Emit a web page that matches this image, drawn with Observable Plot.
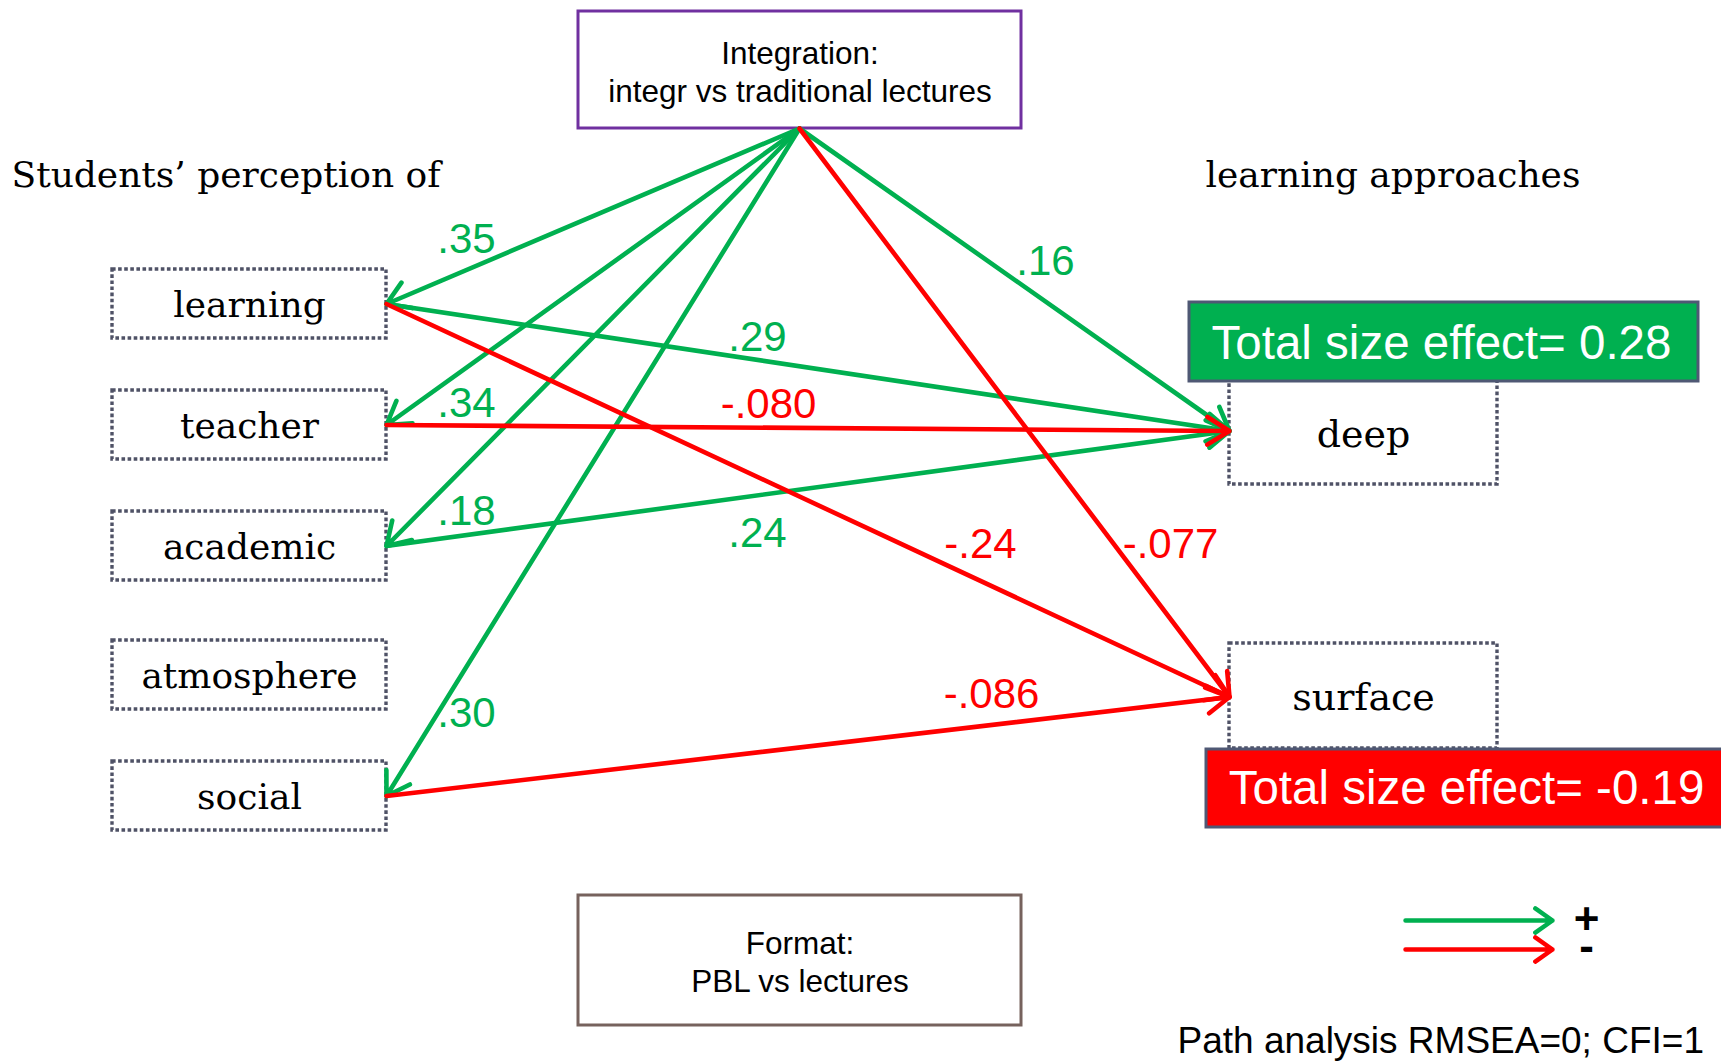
<!DOCTYPE html>
<html><head><meta charset="utf-8">
<script src="https://cdn.jsdelivr.net/npm/d3@7"></script>
<script src="https://cdn.jsdelivr.net/npm/@observablehq/plot@0.6"></script>
<style>html,body{margin:0;padding:0;background:#fff;overflow:hidden}</style>
</head><body><div id="chart"></div>
<script>
// ---------- DATA ----------
const perceptionVars = ["learning", "teacher", "academic", "atmosphere", "social"];
const approachVars = ["deep", "surface"];
const predictorIds = ["integration", "format"];
const predictorLabels = ["Integration:\nintegr vs traditional lectures", "Format:\nPBL vs lectures"];
const pathFrom = ["integration", "integration", "integration", "integration", "integration", "integration", "learning", "teacher", "academic", "learning", "social"];
const pathTo   = ["learning", "teacher", "academic", "social", "deep", "surface", "deep", "deep", "deep", "surface", "surface"];
const pathCoef = [0.35, 0.34, 0.18, 0.30, 0.16, -0.077, 0.29, -0.080, 0.24, -0.24, -0.086];
const pathCoefLabels = [".35", ".34", ".18", ".30", ".16", "-.077", ".29", "-.080", ".24", "-.24", "-.086"];
const totalEffectVars = ["deep", "surface"];
const totalEffects = [0.28, -0.19];
const headers = ["Students\u2019 perception of", "learning approaches"];
const legendSigns = ["+", "-"];
const caption = "Path analysis RMSEA=0; CFI=1";

// ---------- LAYOUT (diagram geometry) ----------
const W = 1721, H = 1062;
const perceptionBox = {x1: 112, x2: 386, h: 69, cy: [303.5, 424.5, 545.5, 674.5, 795.5]};
const approachBox = {x1: 1229, x2: 1497, h: 105, cy: [431.5, 695.5], ty: [434, 697]};
const predictorBox = {x1: 578, x2: 1021, y1: [11, 895], y2: [128, 1025], stroke: ["#7030a0", "#76625d"], cy: [70, 960]};
const effectBox = {x1: [1189, 1206], x2: [1698, 1740], y1: [302, 749], y2: [381, 827], tx: [1441, 1466], ty: [343, 788]};
const coefLabelPos = [[466, 239], [466, 403], [466, 511], [466, 713], [1045, 261], [1170, 544], [757, 337], [768, 404], [757, 533], [980, 544], [991, 694]];
const GREEN = "#00b050", RED = "#ff0000";

// ports
const port = {};
port.integration = [799, 128];
perceptionVars.forEach((v, i) => port[v] = [perceptionBox.x2, perceptionBox.cy[i]]);
approachVars.forEach((v, i) => port[v] = [approachBox.x1, approachBox.cy[i] + (i === 0 ? -1 : 1)]);

const perceptionRows = perceptionVars.map((v, i) => ({name: v, x1: perceptionBox.x1, x2: perceptionBox.x2, y1: perceptionBox.cy[i] - perceptionBox.h / 2, y2: perceptionBox.cy[i] + perceptionBox.h / 2, cx: (perceptionBox.x1 + perceptionBox.x2) / 2, cy: perceptionBox.cy[i] + 1}));
const approachRows = approachVars.map((v, i) => ({name: v, x1: approachBox.x1, x2: approachBox.x2, y1: approachBox.cy[i] - approachBox.h / 2, y2: approachBox.cy[i] + approachBox.h / 2, cx: (approachBox.x1 + approachBox.x2) / 2, cy: approachBox.ty[i]}));
const predictorRows = predictorIds.map((id, i) => ({id, label: predictorLabels[i], x1: predictorBox.x1, x2: predictorBox.x2, y1: predictorBox.y1[i], y2: predictorBox.y2[i], stroke: predictorBox.stroke[i], cx: (predictorBox.x1 + predictorBox.x2) / 2, cy: predictorBox.cy[i]}));
const paths = pathFrom.map((f, i) => ({from: f, to: pathTo[i], coef: pathCoef[i], label: pathCoefLabels[i], x1: port[f][0], y1: port[f][1], x2: port[pathTo[i]][0], y2: port[pathTo[i]][1], lx: coefLabelPos[i][0], ly: coefLabelPos[i][1], color: pathCoef[i] >= 0 ? GREEN : RED}));
const pathsOrdered = [...paths.filter(d => d.coef >= 0), ...paths.filter(d => d.coef < 0)];
const effectRows = totalEffectVars.map((v, i) => ({v, value: totalEffects[i], label: "Total size effect= " + (totalEffects[i] < 0 ? "-" : "") + Math.abs(totalEffects[i]).toFixed(2), x1: effectBox.x1[i], x2: effectBox.x2[i], y1: effectBox.y1[i], y2: effectBox.y2[i], tx: effectBox.tx[i], ty: effectBox.ty[i], fill: totalEffects[i] >= 0 ? GREEN : RED}));
const headerRows = headers.map((t, i) => ({t, x: [11, 1205][i], y: 175}));
const legendRows = legendSigns.map((s, i) => ({s, x1: 1405, x2: 1552, y: [920, 949][i], color: [GREEN, RED][i]}));
const legendSignText = [{t: legendSigns.join("\n"), x: 1586, y: 938}];

const SERIF = "'DejaVu Serif', serif";
const SANS = "'Liberation Sans', Arial, sans-serif";
const DOT = "#4f5266";

const chart = Plot.plot({
  width: W, height: H, margin: 0,
  x: {domain: [0, W], range: [0, W], axis: null},
  y: {domain: [0, H], range: [0, H], axis: null},
  marks: [
    Plot.rect(perceptionRows, {x1: "x1", x2: "x2", y1: "y1", y2: "y2", fill: "none", stroke: DOT, strokeWidth: 3.4, strokeDasharray: "3.6,2.5"}),
    Plot.rect(approachRows, {x1: "x1", x2: "x2", y1: "y1", y2: "y2", fill: "none", stroke: DOT, strokeWidth: 3.4, strokeDasharray: "3.6,2.5"}),
    Plot.rect(predictorRows, {x1: "x1", x2: "x2", y1: "y1", y2: "y2", fill: "none", stroke: "stroke", strokeWidth: 3}),
    Plot.text(perceptionRows, {x: "cx", y: "cy", text: "name", fontFamily: SERIF, fontSize: 36, fill: "#000", lineAnchor: "middle"}),
    Plot.text(approachRows, {x: "cx", y: "cy", text: "name", fontFamily: SERIF, fontSize: 38, fill: "#000", lineAnchor: "middle"}),
    Plot.text(predictorRows, {x: "cx", y: "cy", text: "label", fontFamily: SANS, fontSize: 31.5, fill: "#000", lineAnchor: "middle", lineHeight: 1.22}),
    Plot.arrow(pathsOrdered, {x1: "x1", y1: "y1", x2: "x2", y2: "y2", stroke: "color", strokeWidth: 4.6, headLength: 8.5, headAngle: 64}),
    Plot.rect(effectRows, {x1: "x1", x2: "x2", y1: "y1", y2: "y2", fill: "fill", stroke: "#4f5874", strokeWidth: 3}),
    Plot.text(effectRows, {x: "tx", y: "ty", text: "label", fontFamily: SANS, fontSize: 47.5, fill: "#fff", lineAnchor: "middle"}),
    Plot.text(paths, {x: "lx", y: "ly", text: "label", fill: "color", fontFamily: SANS, fontSize: 42, lineAnchor: "middle"}),
    Plot.text(headerRows, {x: "x", y: "y", text: "t", fontFamily: SERIF, fontSize: 36, fill: "#000", textAnchor: "start", lineAnchor: "middle"}),
    Plot.arrow(legendRows, {x1: "x1", y1: "y", x2: "x2", y2: "y", stroke: "color", strokeWidth: 4.5, headLength: 7, headAngle: 70}),
    Plot.text(legendSignText, {x: "x", y: "y", text: "t", fontFamily: SANS, fontWeight: "bold", fontSize: 44, lineHeight: 0.62, fill: "#000", lineAnchor: "middle"}),
    Plot.text([caption], {x: 1177, y: 1041, text: d => d, fontFamily: SANS, fontSize: 37, fill: "#000", textAnchor: "start", lineAnchor: "middle"})
  ]
});
document.getElementById("chart").appendChild(chart);
</script>
</body></html>
